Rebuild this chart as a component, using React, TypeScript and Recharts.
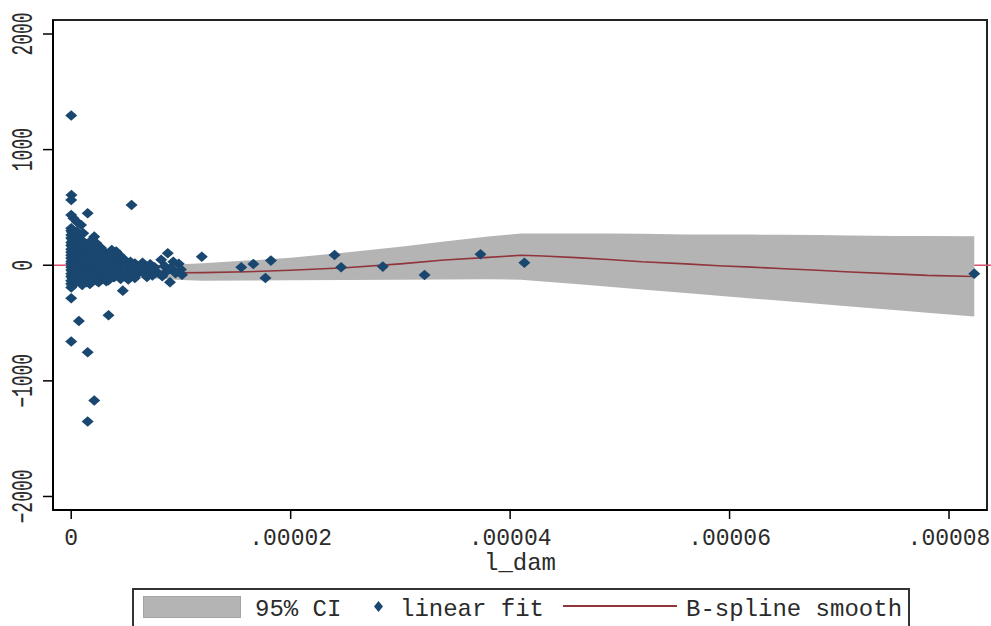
import {
  ComposedChart,
  Area,
  Line,
  Scatter,
  XAxis,
  YAxis,
  ReferenceLine,
  ReferenceArea,
  Legend,
} from "recharts";

// l_dam in units of 1e-6, residuals
const damX = [
  0, 0.02, 0, 0, 0.2, 0.5, 0.9, 0, 1.1, 2.1, 1.5, 5.5,
  0, 0.1, 0, 0.2, 0, 0.1, 0.3, 0, 0.2, 0, 0.1, 0.3, 0, 0.2, 0, 0.1, 0.4, 0, 0.2, 0, 0.1, 0.3, 0, 0.2, 0, 0.1,
  0.3, 0, 0.2, 0, 0.1, 0.3, 0, 0.2, 0, 0.1, 0.3, 0, 0.2, 0, 0.1, 0,
  0.5, 0.7, 0.6, 0.9, 1.2, 0.5, 0.8, 1.4, 0.6, 1.0, 1.6, 0.7, 1.3, 0.5, 1.1, 1.5, 0.8, 1.2, 0.6, 1.4, 0.9, 1.7,
  0.5, 1.1, 1.5, 0.7, 1.3, 0.9, 1.6, 0.6, 1.2, 0.8, 1.4, 1.7, 1.0,
  1.9, 2.3, 1.8, 2.7, 2.2, 3.0, 1.9, 2.5, 3.1, 2.0, 2.8, 2.3, 3.2, 1.8, 2.6, 2.1, 3.0, 2.4, 1.9, 2.8, 2.2, 3.1,
  2.5, 2.0, 2.9, 2.3, 2.5, 3.2,
  3.7, 4.1, 3.5, 4.4, 3.8, 4.6, 3.4, 4.2, 3.9, 4.5, 3.6, 4.3, 3.5, 4.0, 4.6, 3.7, 4.2, 3.9, 4.5, 3.4, 4.7,
  4.9, 5.4, 5.8, 5.1, 6.0, 5.3, 5.7, 5.0, 6.1, 5.5, 4.9, 5.8, 5.2,
  6.5, 7.2, 6.8, 7.6, 6.4, 7.0, 7.8, 6.7, 7.4, 6.9,
  8.2, 8.8, 9.3, 9.8, 8.5, 9.1, 10.0, 8.7, 9.5, 10.1, 8.3, 9.0,
  0, 0.7, 3.4, 0, 1.5, 2.1, 1.5, 11.9,
  15.5, 16.6, 18.2, 17.7, 24.0, 24.6, 28.4, 32.2, 37.3, 41.3, 82.3,
];
const resY = [
  1295, 608, 565, 435, 406, 377, 348, 320, 277, 247, 450, 521,
  298, 284, 262, 251, 236, 221, 210, 197, 185, 172, 160, 148, 139, 126, 114, 102, 95, 86, 74, 63, 51, 43, 32, 21, 12, 3,
  -8, -17, -29, -41, -52, -63, -74, -86, -98, -111, -122, -134, -147, -161, -176, -192,
  292, 263, 231, 214, 196, 188, 170, 158, 143, 131, 119, 108, 97, 81, 72, 60, 49, 37, 26, 15, 4, -6,
  -18, -31, -43, -57, -68, -82, -94, -107, -119, -133, -146, -162, -170,
  221, 190, 164, 151, 133, 118, 104, 92, 80, 66, 55, 43, 31, 19, 8, -4, -16, -28, -41, -53, -66, -79,
  -91, -104, -118, -131, -147, -138,
  132, 118, 101, 88, 72, 58, 47, 35, 20, 6, -7, -21, -36, -49, -62, -76, -90, -104, -118, -129, -220,
  44, 29, 14, 0, -12, -26, -40, -55, -68, -82, -96, -110, -124,
  22, 8, -5, -18, -32, -45, -60, -74, -88, -102,
  48, 104, 30, 12, -6, -22, -36, -52, -68, -82, -95, -147,
  -285, -482, -433, -660, -752, -1170, -1352, 74,
  -17, 11, 40, -110, 89, -17, -12, -84, 95, 22, -73,
];

// B-spline smooth and 95% CI
const gridX = [0, 1, 2, 4, 6, 8, 10, 12, 16, 20, 25, 30, 34, 38, 41, 43, 46, 49, 52, 56, 59, 62, 65, 68, 71, 75, 78, 82.3];
const fit = [17, -10, -22, -40, -53, -62, -65, -64, -57, -43, -22, 12, 45, 68, 86, 80, 66, 50, 30, 12, -4, -16, -30, -44, -58, -75, -88, -97];
const ciHigh = [45, 25, 15, 5, 3, 5, 9, 18, 40, 65, 110, 160, 205, 248, 275, 275, 275, 274, 272, 266, 265, 265, 264, 262, 258, 252, 252, 250];
const ciLow = [-10, -45, -60, -85, -105, -118, -127, -135, -133, -130, -128, -126, -124, -122, -125, -140, -163, -186, -209, -240, -264, -287, -310, -334, -357, -388, -411, -444];

const xTicks = [0, 20, 40, 60, 80];
const yTicks = [-2000, -1000, 0, 1000, 2000];

const X_DOMAIN: [number, number] = [-1.66, 83.46];
const Y_DOMAIN: [number, number] = [-2117, 2121];

const points = damX.map((x, i) => ({ x, y: resY[i] }));
const band = gridX.map((x, i) => ({ x, low: ciLow[i], high: ciHigh[i], fit: fit[i] }));

const FONT = '"Liberation Mono", "DejaVu Sans Mono", monospace';
const TEXT = "#2b2b2b";

const fmtX = (v: number) => (v === 0 ? "0" : (v / 1e6).toFixed(5).slice(1));
const fmtY = (v: number) => (v < 0 ? "\u2212" + Math.abs(v) : String(v));

const XTick = ({ x, y, payload }: any) => (
  <text x={x} y={y} dy={24} textAnchor="middle" fontFamily={FONT} fontSize={23} fill={TEXT}>
    {fmtX(payload.value)}
  </text>
);

const YTick = ({ x, y, payload }: any) => (
  <text
    transform={`translate(${x - 9},${y}) rotate(-90) scale(1,1.6)`}
    textAnchor="middle"
    fontFamily={FONT}
    fontSize={18}
    fill={TEXT}
  >
    {fmtY(payload.value)}
  </text>
);

const Diamond = ({ cx, cy }: any) => (
  <path d={`M${cx},${cy - 5.3}L${cx + 6},${cy}L${cx},${cy + 5.3}L${cx - 6},${cy}Z`} fill="#1a476f" />
);

const LegendBox = () => (
  <div
    style={{
      position: "relative",
      width: 778,
      height: 40,
      border: "2px solid #333",
      borderBottom: "none",
      boxSizing: "border-box",
      background: "#fff",
      fontFamily: FONT,
      fontSize: 24,
      lineHeight: "24px",
      color: TEXT,
      whiteSpace: "nowrap",
    }}
  >
    <div style={{ position: "absolute", left: 9, top: 6, width: 98, height: 22, background: "#b4b4b4", border: "1px solid #a4a4a4", boxSizing: "border-box" }} />
    <span style={{ position: "absolute", left: 121, top: 8 }}>95% CI</span>
    <svg style={{ position: "absolute", left: 240, top: 11 }} width={9} height={11}>
      <path d="M4.5,0L9,5.5L4.5,11L0,5.5Z" fill="#1a476f" />
    </svg>
    <span style={{ position: "absolute", left: 266, top: 8 }}>linear fit</span>
    <div style={{ position: "absolute", left: 429, top: 15, width: 114, height: 0, borderTop: "2px solid #90353b" }} />
    <span style={{ position: "absolute", left: 552, top: 8 }}>B-spline smooth</span>
  </div>
);

export default function App() {
  return (
    <div style={{ position: "absolute", left: 0, top: 0, width: 991, height: 626, overflow: "hidden", background: "#fff" }}>
      <ComposedChart width={991} height={626} margin={{ top: 20, right: 4, left: 0, bottom: 76 }}>
        <XAxis
          dataKey="x"
          type="number"
          domain={X_DOMAIN}
          ticks={xTicks}
          allowDataOverflow
          height={40}
          tickSize={9}
          tick={<XTick />}
          axisLine={{ stroke: "#000", strokeWidth: 2 }}
          tickLine={{ stroke: "#000", strokeWidth: 1.5 }}
          label={{ value: "l_dam", position: "bottom", offset: 3, fontSize: 24, fontFamily: FONT, fill: TEXT }}
        />
        <YAxis
          type="number"
          domain={Y_DOMAIN}
          ticks={yTicks}
          allowDataOverflow
          width={53}
          tickSize={10}
          tick={<YTick />}
          axisLine={{ stroke: "#000", strokeWidth: 2 }}
          tickLine={{ stroke: "#000", strokeWidth: 1.5 }}
        />
        <ReferenceLine
          segment={[{ x: X_DOMAIN[0], y: 0 }, { x: 0, y: 0 }]}
          stroke="#d6506f"
          strokeWidth={1.5}
          ifOverflow="visible"
        />
        <ReferenceLine
          segment={[{ x: 82.3, y: 0 }, { x: 83.82, y: 0 }]}
          stroke="#d6506f"
          strokeWidth={1.5}
          ifOverflow="visible"
        />
        <Area
          data={band}
          dataKey={(d: any) => [d.low, d.high]}
          type="linear"
          fill="#b4b4b4"
          fillOpacity={1}
          stroke="none"
          isAnimationActive={false}
          legendType="none"
        />
        <Scatter data={points} dataKey="y" shape={<Diamond />} isAnimationActive={false} legendType="none" />
        <Line
          data={band}
          dataKey="fit"
          type="linear"
          stroke="#90353b"
          strokeWidth={1.6}
          dot={false}
          activeDot={false}
          isAnimationActive={false}
          legendType="none"
        />
        <ReferenceArea
          x1={X_DOMAIN[0]}
          x2={X_DOMAIN[1]}
          y1={Y_DOMAIN[0]}
          y2={Y_DOMAIN[1]}
          fill="none"
          stroke="#222"
          strokeWidth={2}
          ifOverflow="visible"
        />
        <Legend
          layout="horizontal"
          verticalAlign="middle"
          align="center"
          content={() => <LegendBox />}
          wrapperStyle={{ left: 132, top: 588, width: 778, height: 38 }}
        />
      </ComposedChart>
    </div>
  );
}
